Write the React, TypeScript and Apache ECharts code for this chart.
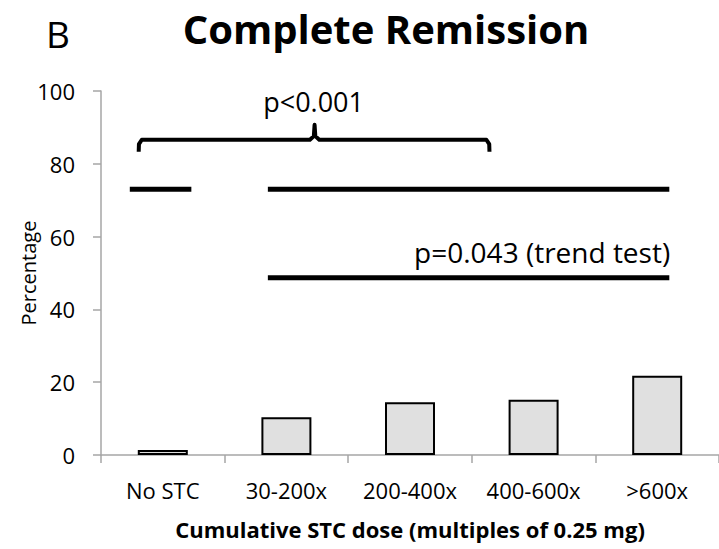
import React, { useEffect, useRef } from "react";
import * as echarts from "echarts";

const categories = ["No STC", "30-200x", "200-400x", "400-600x", ">600x"];
const remission = [1.4, 10.4, 14.5, 15.2, 21.8];
const yTicks = { min: 0, max: 100, interval: 20 };

// annotation lines, in category units (0..5) and percentage
const shortLine = [[0.233, 73.0], [0.731, 73.0]];
const longLine = [[1.35, 73.0], [4.598, 73.0]];
const trendLine = [[1.35, 48.7], [4.598, 48.7]];
const brace = [
  [0.305, 83.3], [0.307, 85.4], [0.33, 86.6], [1.69, 86.6], [1.722, 87.6], [1.728, 90.7],
  [1.734, 87.6], [1.766, 86.6], [3.118, 86.6], [3.141, 85.4], [3.143, 83.3],
];
const pLabel1 = { text: "p<0.001", coord: [1.72, 97.2] };
const pLabel2 = { text: "p=0.043 (trend test)", coord: [4.605, 55.8] };

const FONT = "Open Sans";

export default function App() {
  const ref = useRef<HTMLDivElement>(null);
  useEffect(() => {
    const chart = echarts.init(ref.current!, null, { renderer: "svg" });
    const lineStyle = (w: number) => ({ color: "#000", width: w, cap: "butt" as const });
    chart.setOption({
      animation: false,
      textStyle: { fontFamily: FONT, color: "#000" },
      grid: { left: 101, right: -4, top: 91, bottom: 94, containLabel: false },
      graphic: [
        { type: "text", x: 58, y: 33, style: { text: "B", fontFamily: FONT, fontSize: 37, fill: "#000", textAlign: "center", textVerticalAlign: "middle" } },
        { type: "text", x: 386, y: 28, style: { text: "Complete Remission", fontFamily: FONT, fontWeight: "bold", fontSize: 40, fill: "#000", textAlign: "center", textVerticalAlign: "middle" } },
      ],
      xAxis: [
        {
          type: "category",
          data: categories,
          boundaryGap: true,
          axisLine: { lineStyle: { color: "#a6a6a6", width: 1.5 } },
          axisTick: { show: true, length: 8, interval: 0, lineStyle: { color: "#a6a6a6", width: 1.5 } },
          axisLabel: { interval: 0, margin: 24, fontSize: 22, color: "#000", fontFamily: FONT },
          name: "Cumulative STC dose (multiples of 0.25 mg)",
          nameLocation: "middle",
          nameGap: 63,
          nameMoveOverlap: false,
          nameTextStyle: { fontSize: 22, fontWeight: "bold", color: "#000", fontFamily: FONT },
        },
        { type: "value", min: 0, max: 5, show: false },
      ],
      yAxis: {
        type: "value",
        min: yTicks.min,
        max: yTicks.max,
        interval: yTicks.interval,
        splitLine: { show: false },
        axisLine: { show: true, lineStyle: { color: "#a6a6a6", width: 1.5 } },
        axisTick: { show: true, length: 8, lineStyle: { color: "#a6a6a6", width: 1.5 } },
        axisLabel: { margin: 26, fontSize: 22, color: "#000", fontFamily: FONT },
        name: "Percentage",
        nameLocation: "middle",
        nameGap: 63,
        nameMoveOverlap: false,
        nameTextStyle: { fontSize: 20, color: "#000", fontFamily: FONT },
      },
      series: [
        {
          type: "bar",
          data: remission,
          barWidth: 50,
          itemStyle: { color: "#e0e0e0", borderColor: "#000", borderWidth: 2 },
        },
        { type: "line", xAxisIndex: 1, data: shortLine, symbol: "none", lineStyle: lineStyle(5) },
        { type: "line", xAxisIndex: 1, data: longLine, symbol: "none", lineStyle: lineStyle(5) },
        {
          type: "line", xAxisIndex: 1, data: trendLine, symbol: "none", lineStyle: lineStyle(5),
          markPoint: {
            symbolSize: 0,
            data: [{ coord: pLabel2.coord, value: pLabel2.text }],
            label: { show: true, position: "left", distance: 0, formatter: pLabel2.text, fontSize: 28, color: "#000", fontFamily: FONT },
          },
        },
        {
          type: "line", xAxisIndex: 1, data: brace, symbol: "none", lineStyle: { color: "#000", width: 4, join: "round" },
          markPoint: {
            symbolSize: 0,
            data: [{ coord: pLabel1.coord, value: pLabel1.text }],
            label: { show: true, position: "inside", formatter: pLabel1.text, fontSize: 27, color: "#000", fontFamily: FONT },
          },
        },
      ],
    });
    return () => chart.dispose();
  }, []);
  return <div ref={ref} style={{ width: 719, height: 549, position: "absolute", left: 0, top: 0 }} />;
}
